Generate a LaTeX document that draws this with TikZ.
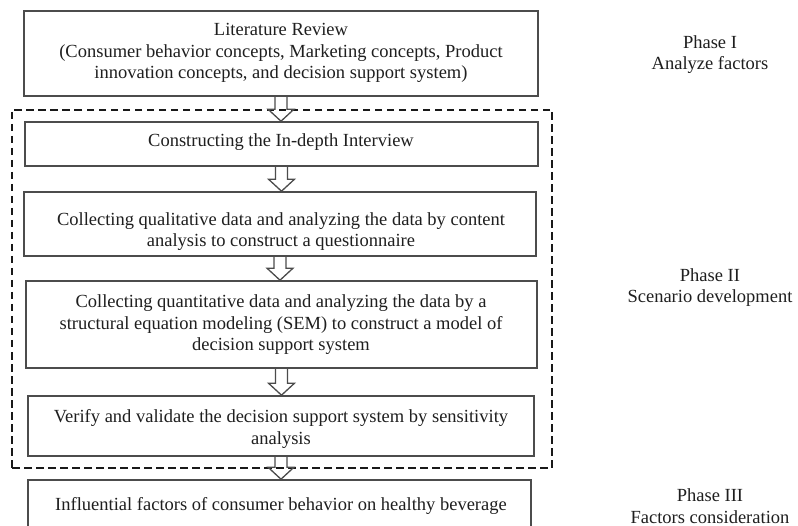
\documentclass[tikz,border=0pt]{standalone}
\usepackage{fontspec}
\setmainfont{Liberation Serif}
\usetikzlibrary{calc}
\tikzset{
  box/.style={draw=black!70, line width=1.6pt, inner sep=0pt, rectangle},
  txt/.style={align=center, inner sep=0pt, text=black!88, font=\fontsize{18.5}{21.8}\selectfont, anchor=base},
  phasebox/.style={draw=black!90, line width=2.2pt, dash pattern=on 7.5pt off 4.5pt, inner sep=0pt, rectangle},
  hollow/.style={draw=black!70, line width=1.3pt, line join=miter},
}
\newcommand\hollowarrow[2]{%
  \draw[hollow] let \p1=(#1.south), \p2=(#2.north) in
    (\x1-6,\y1) -- (\x1-6,\y2+12) -- (\x1-13,\y2+12) -- (\x1,\y2) -- (\x1+13,\y2+12) -- (\x1+6,\y2+12) -- (\x1+6,\y1);}
\begin{document}
\begin{tikzpicture}[x=1pt,y=-1pt]
\useasboundingbox (0,0) rectangle (798,526);
\clip (0,0) rectangle (798,526);
\fill[white] (0,0) rectangle (798,526);
% phase II frame
\node[phasebox, minimum width=540pt, minimum height=358pt] (frame) at (282,289) {};
% boxes
\node[box, minimum width=514pt, minimum height=85pt] (b1) at (281,53.5) {};
\node[box, minimum width=513pt, minimum height=44pt] (b2) at (281.5,144) {};
\node[box, minimum width=512pt, minimum height=64pt] (b3) at (280,224) {};
\node[box, minimum width=511pt, minimum height=87pt] (b4) at (281.5,324.5) {};
\node[box, minimum width=506pt, minimum height=60pt] (b5) at (281,426) {};
\node[box, minimum width=503pt, minimum height=70pt] (b6) at (279.5,515) {};
% texts (anchor = baseline of the last line)
\node[txt] (t1) at (281,79) {Literature Review\\(Consumer behavior concepts, Marketing concepts, Product\\innovation concepts, and decision support system)};
\node[txt] (t2) at (281,147) {Constructing the In-depth Interview};
\node[txt] (t3) at (281,247) {Collecting qualitative data and analyzing the data by content\\analysis to construct a questionnaire};
\node[txt] (t4) at (281,351) {Collecting quantitative data and analyzing the data by a\\structural equation modeling (SEM) to construct a model of\\decision support system};
\node[txt] (t5) at (281,444) {Verify and validate the decision support system by sensitivity\\analysis};
\node[txt] (t6) at (281,510) {Influential factors of consumer behavior on healthy beverage};
% phases
\node[txt] (p1) at (710,70) {Phase I\\Analyze factors};
\node[txt] (p2) at (710,303) {Phase II\\Scenario development};
\node[txt] (p3) at (710,523) {Phase III\\Factors consideration};
% arrows
\hollowarrow{b1}{b2}
\hollowarrow{b2}{b3}
\hollowarrow{b3}{b4}
\hollowarrow{b4}{b5}
\hollowarrow{b5}{b6}
\end{tikzpicture}
\end{document}
